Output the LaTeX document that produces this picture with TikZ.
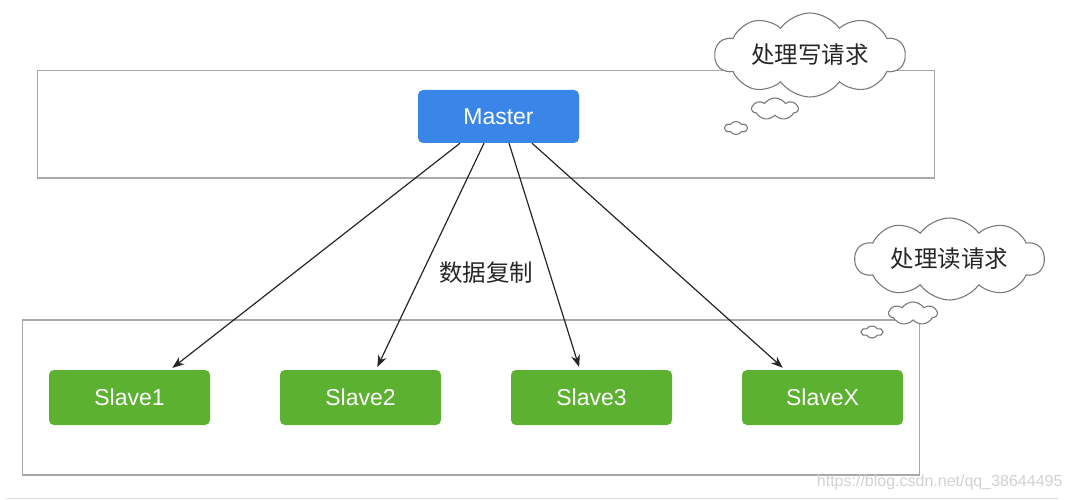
\documentclass[tikz,border=0pt]{standalone}
\usepackage{fontspec}
\setmainfont{Liberation Sans}
\newfontfamily\cjk{Noto Sans CJK SC}
\usetikzlibrary{shapes.symbols,arrows.meta}
\definecolor{mblue}{HTML}{3A86E8}
\definecolor{sgreen}{HTML}{5CB131}
\definecolor{framegray}{HTML}{A8A8A8}
\definecolor{cloudgray}{HTML}{7A7A7A}
\tikzset{
  framebox/.style={draw=framegray,line width=1.3pt},
  masterbox/.style={fill=mblue,rounded corners=5pt,minimum width=161pt,minimum height=53pt,text=white,font=\fontsize{23}{26}\selectfont,inner sep=0pt},
  slavebox/.style={fill=sgreen,rounded corners=5pt,minimum width=161pt,minimum height=55pt,text=white,font=\fontsize{23}{26}\selectfont,inner sep=0pt},
  thought/.style={cloud,cloud ignores aspect,cloud puff arc=110,draw=cloudgray,fill=white,line width=1.1pt,inner sep=0pt,font=\cjk\fontsize{23.5}{26}\selectfont,text=black!85},
  conn/.style={draw=black!85,line width=1.2pt,-{Stealth[length=12pt,width=9pt]},shorten >=3pt},
}
\begin{document}
\begin{tikzpicture}[x=1pt,y=-1pt]
\useasboundingbox (0,0) rectangle (1076,500);
% frames
\draw[framebox] (37.5,70.5) rectangle (934.5,178);
\draw[framebox] (22.5,320) rectangle (919.5,475);
\draw[draw=black!15,line width=1pt] (7,498) -- (1058,498);
% nodes
\node[masterbox] (m) at (498.5,116.5) {Master};
\node[slavebox] (s1) at (129.5,397.5) {Slave1};
\node[slavebox] (s2) at (360.5,397.5) {Slave2};
\node[slavebox] (s3) at (591.5,397.5) {Slave3};
\node[slavebox] (sx) at (822.5,397.5) {SlaveX};
% connectors
\draw[conn] ([xshift=-38.5pt]m.south) -- ([xshift=40.5pt]s1.north);
\draw[conn] ([xshift=-14.5pt]m.south) -- ([xshift=15.5pt]s2.north);
\draw[conn] ([xshift=10.5pt]m.south) -- ([xshift=-11.5pt]s3.north);
\draw[conn] ([xshift=33.5pt]m.south) -- ([xshift=-37.5pt]sx.north);
\node[font=\cjk\fontsize{23.5}{26}\selectfont,text=black!85] (lbl) at (486,273) {数据复制};
% thought clouds
\node[thought,cloud puffs=10,minimum width=190pt,minimum height=84pt] (c1) at (810,55) {处理写请求};
\node[thought,cloud puffs=7,minimum width=46pt,minimum height=22pt] (c1b) at (775,109) {};
\node[thought,cloud puffs=6,minimum width=22pt,minimum height=13pt] (c1c) at (736,128) {};
\node[thought,cloud puffs=10,minimum width=189pt,minimum height=82pt] (c2) at (949.5,259) {处理读请求};
\node[thought,cloud puffs=7,minimum width=48pt,minimum height=23pt] (c2b) at (913,313.5) {};
\node[thought,cloud puffs=6,minimum width=21pt,minimum height=12pt] (c2c) at (872,332) {};
% watermark
\node[font=\fontsize{16}{18}\selectfont,text=black!18,anchor=east] (wm) at (1066,482) {https://blog.csdn.net/qq\_38644495};
\end{tikzpicture}
\end{document}
